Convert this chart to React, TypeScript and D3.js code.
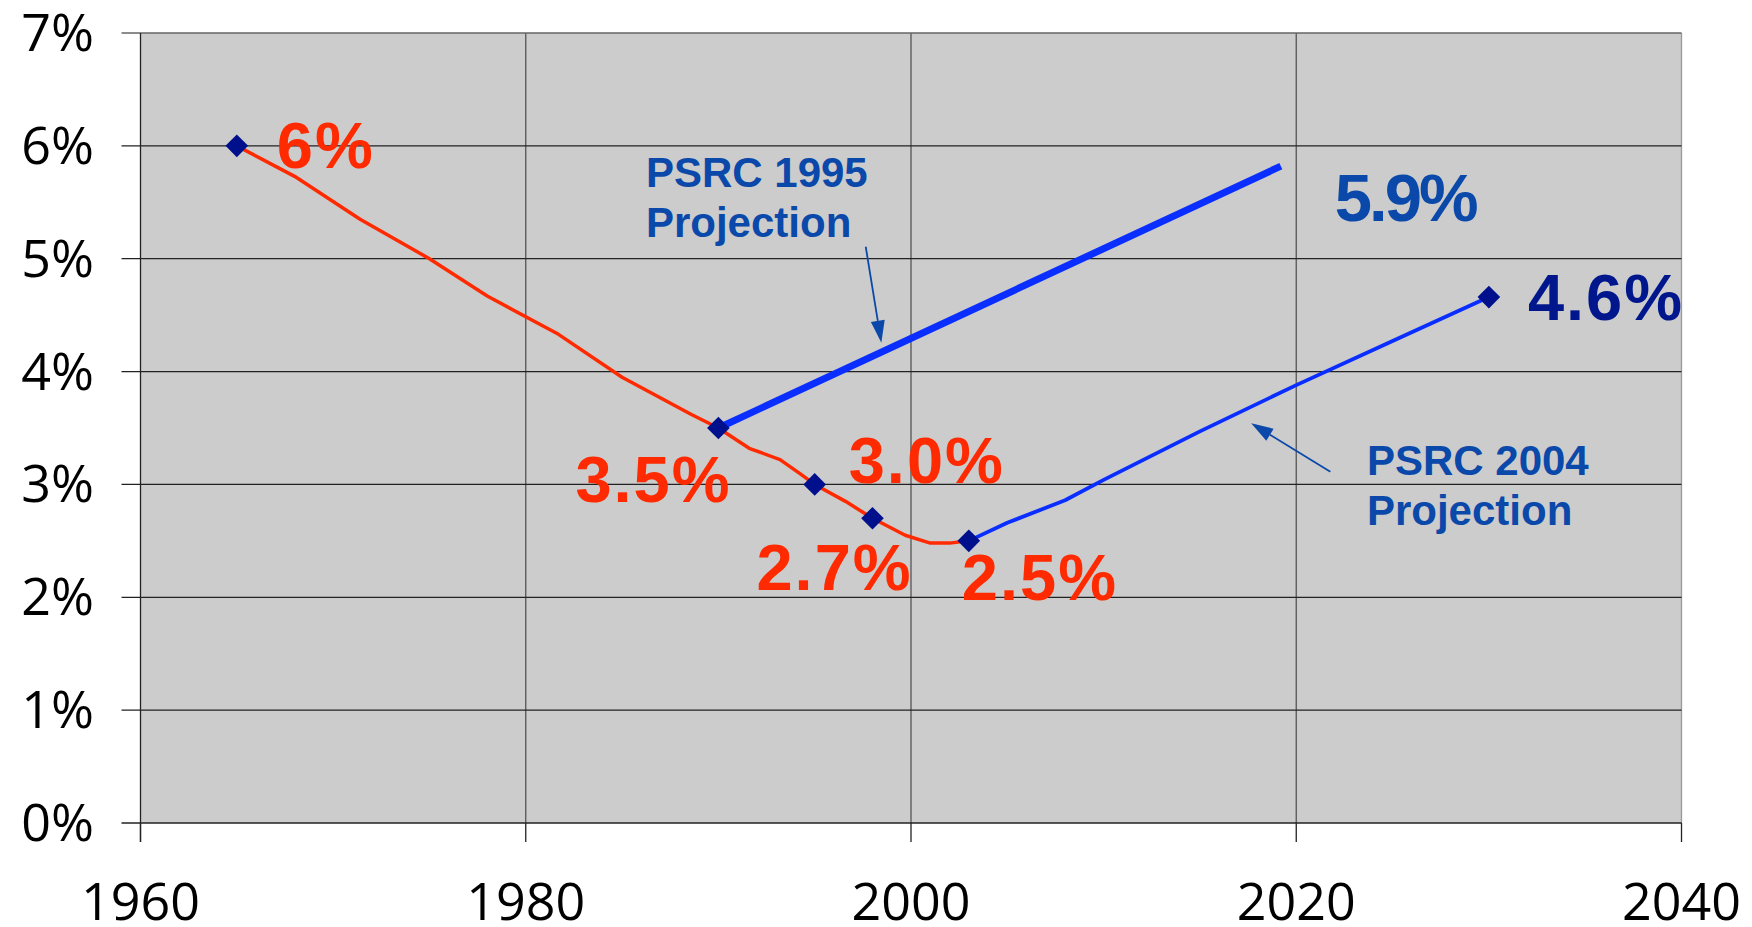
import React, { useEffect, useRef } from 'react';
import * as d3 from 'd3';

// historical (red) series
const histYears = [1965, 1968, 1971.4, 1975, 1978, 1981.7, 1985, 1988.6, 1990, 1991.6, 1993.2, 1994.2, 1995, 1996.6, 1998, 1999.7, 2001, 2002, 2003];
const histRates = [6.0, 5.73, 5.35, 5.0, 4.67, 4.33, 3.95, 3.62, 3.5, 3.32, 3.22, 3.1, 3.0, 2.85, 2.7, 2.55, 2.48, 2.48, 2.5];

// PSRC 1995 projection (thick)
const proj1995Years = [1990, 2019.2];
const proj1995Rates = [3.5, 5.82];

// PSRC 2004 projection (thin)
const proj2004Years = [2003, 2005, 2008, 2010, 2015, 2020, 2025, 2030];
const proj2004Rates = [2.5, 2.66, 2.86, 3.04, 3.47, 3.88, 4.27, 4.66];

// diamond markers
const markerYears = [1965, 1990, 1995, 1998, 2003, 2030];
const markerRates = [6.0, 3.5, 3.0, 2.7, 2.5, 4.66];

// value labels
const labelTexts = ['6%', '3.5%', '3.0%', '2.7%', '2.5%', '5.9%', '4.6%'];
const labelYears = [1965, 1990, 1995, 1998, 2003, 2019.2, 2030];
const labelRates = [6.0, 3.5, 3.0, 2.7, 2.5, 5.82, 4.66];

const xTicks = [1960, 1980, 2000, 2020, 2040];
const yTicks = [0, 1, 2, 3, 4, 5, 6, 7];

export default function App() {
  const svgRef = useRef<SVGSVGElement>(null);

  useEffect(() => {
    if (!svgRef.current) return;
    const svg = d3.select(svgRef.current);
    svg.selectAll('*').remove();

    const width = 1752;
    const height = 927;
    const x = d3.scaleLinear().domain([1960, 2040]).range([140.5, 1681.5]);
    const y = d3.scaleLinear().domain([0, 7]).range([823, 33]);

    const axisFont = '"Open Sans", "DejaVu Sans", sans-serif';
    const boldFont = '"Liberation Sans", Arial, sans-serif';

    // plot background
    svg.append('rect')
      .attr('x', x(1960)).attr('y', y(7))
      .attr('width', x(2040) - x(1960)).attr('height', y(0) - y(7))
      .attr('fill', '#cccccc');

    // vertical gridlines
    svg.append('g').selectAll('line')
      .data(xTicks.slice(1, -1))
      .join('line')
      .attr('x1', d => x(d)).attr('x2', d => x(d))
      .attr('y1', y(7)).attr('y2', y(0))
      .attr('stroke', '#555').attr('stroke-width', 1.3);

    // right border
    svg.append('line')
      .attr('x1', x(2040)).attr('x2', x(2040))
      .attr('y1', y(7)).attr('y2', y(0))
      .attr('stroke', '#999').attr('stroke-width', 1.3);

    // horizontal gridlines + y ticks
    svg.append('g').selectAll('line')
      .data(yTicks)
      .join('line')
      .attr('x1', x(1960) - 19).attr('x2', x(2040))
      .attr('y1', d => y(d)).attr('y2', d => y(d))
      .attr('stroke', d => (d === 7 ? '#666' : '#222')).attr('stroke-width', 1.3);

    // x ticks
    svg.append('g').selectAll('line')
      .data(xTicks)
      .join('line')
      .attr('x1', d => x(d)).attr('x2', d => x(d))
      .attr('y1', y(0)).attr('y2', y(0) + 19)
      .attr('stroke', '#222').attr('stroke-width', 1.3);

    // left axis
    svg.append('line')
      .attr('x1', x(1960)).attr('x2', x(1960))
      .attr('y1', y(7)).attr('y2', y(0) + 19)
      .attr('stroke', '#222').attr('stroke-width', 1.3);

    // tick labels
    svg.append('g').selectAll('text')
      .data(yTicks)
      .join('text')
      .attr('x', 94).attr('y', d => y(d) + 18)
      .attr('text-anchor', 'end')
      .attr('font-family', axisFont).attr('font-size', 52)
      .attr('fill', '#000')
      .text(d => `${d}%`);

    svg.append('g').selectAll('text')
      .data(xTicks)
      .join('text')
      .attr('x', d => x(d)).attr('y', 920)
      .attr('text-anchor', 'middle')
      .attr('font-family', axisFont).attr('font-size', 52)
      .attr('fill', '#000')
      .text(d => d);

    const line = d3.line<[number, number]>().x(d => x(d[0])).y(d => y(d[1]));

    svg.append('path')
      .attr('d', line(histYears.map((yr, i) => [yr, histRates[i]])))
      .attr('fill', 'none').attr('stroke', '#ff2a00').attr('stroke-width', 3.5)
      .attr('stroke-linejoin', 'round');

    svg.append('path')
      .attr('d', line(proj1995Years.map((yr, i) => [yr, proj1995Rates[i]])))
      .attr('fill', 'none').attr('stroke', '#0a2eff').attr('stroke-width', 7);

    svg.append('path')
      .attr('d', line(proj2004Years.map((yr, i) => [yr, proj2004Rates[i]])))
      .attr('fill', 'none').attr('stroke', '#0a2eff').attr('stroke-width', 3.8)
      .attr('stroke-linejoin', 'round');

    // diamonds
    const diamond = d3.symbol(d3.symbolSquare, 256);
    svg.append('g').selectAll('path')
      .data(markerYears.map((yr, i) => [yr, markerRates[i]]))
      .join('path')
      .attr('d', diamond())
      .attr('transform', d => `translate(${x(d[0])},${y(d[1])}) rotate(45)`)
      .attr('fill', '#00108c');

    // value labels
    const labelOffsets = [[40, 22], [-143, 74], [34, -1], [-116, 72], [-7, 59], [54, 55], [39, 23]];
    const labelColors = ['#ff2a00', '#ff2a00', '#ff2a00', '#ff2a00', '#ff2a00', '#0a48aa', '#00168c'];
    const labelSpacing = [2, 2, 2, 2, 2, -3, 2];
    svg.append('g').selectAll('text')
      .data(labelTexts)
      .join('text')
      .attr('x', (d, i) => x(labelYears[i]) + labelOffsets[i][0])
      .attr('y', (d, i) => y(labelRates[i]) + labelOffsets[i][1])
      .attr('font-family', boldFont).attr('font-weight', 700)
      .attr('font-size', (d, i) => (i === 5 ? 67 : 65))
      .attr('letter-spacing', (d, i) => labelSpacing[i])
      .attr('fill', (d, i) => labelColors[i])
      .text(d => d);

    // callouts
    const calloutColor = '#0a48aa';
    const callout = (yr: number, val: number, lines: string[]) => {
      const t = svg.append('text')
        .attr('font-family', boldFont).attr('font-weight', 700)
        .attr('font-size', 42).attr('fill', calloutColor);
      lines.forEach((s, i) => {
        t.append('tspan').attr('x', x(yr)).attr('y', y(val) + i * 50).text(s);
      });
    };
    callout(1986.24, 5.638, ['PSRC 1995', 'Projection']);
    callout(2023.67, 3.084, ['PSRC 2004', 'Projection']);

    const arrow = (fx: number, fy: number, tx: number, ty: number) => {
      const x1 = x(fx), y1 = y(fy), x2 = x(tx), y2 = y(ty);
      const ang = Math.atan2(y2 - y1, x2 - x1);
      const len = 22, hw = 7;
      const bx = x2 - len * Math.cos(ang), by = y2 - len * Math.sin(ang);
      svg.append('line')
        .attr('x1', x1).attr('y1', y1).attr('x2', bx).attr('y2', by)
        .attr('stroke', calloutColor).attr('stroke-width', 1.8);
      const px = -Math.sin(ang) * hw, py = Math.cos(ang) * hw;
      svg.append('path')
        .attr('d', `M${x2},${y2}L${bx + px},${by + py}L${bx - px},${by - py}Z`)
        .attr('fill', calloutColor);
    };
    arrow(1997.65, 5.106, 1998.46, 4.256);
    arrow(2021.77, 3.113, 2017.66, 3.542);

    svg.attr('width', width).attr('height', height);
  }, []);

  return (
    <svg
      ref={svgRef}
      width={1752}
      height={927}
      style={{ position: 'absolute', left: 0, top: 0, background: '#fff' }}
    />
  );
}
